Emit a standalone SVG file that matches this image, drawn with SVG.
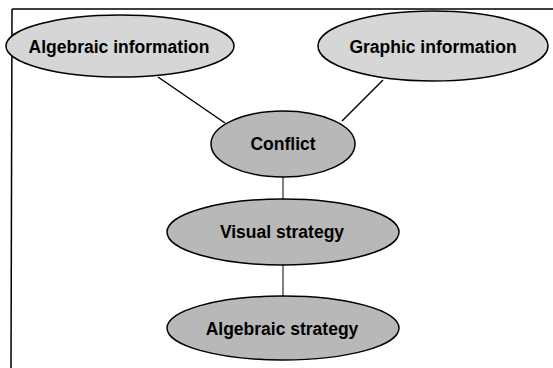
<svg xmlns="http://www.w3.org/2000/svg" width="553" height="368" viewBox="0 0 553 368">
<style>
.n ellipse{stroke:#000;stroke-width:1.5}
.light{fill:#d6d6d6}
.dark{fill:#b8b8b8}
text{font-family:"Liberation Sans",Arial,sans-serif;font-weight:bold;font-size:17.5px;fill:#000;text-anchor:middle;dominant-baseline:central}
.edge{stroke:#000;stroke-width:1.5;fill:none}
.thin{stroke:#000;stroke-width:1;fill:none}
</style>
<rect width="553" height="368" fill="#fff"/>
<g id="frame">
<line class="edge" x1="12" y1="9" x2="553" y2="9"/>
<line class="edge" x1="12" y1="9" x2="11" y2="368"/>
</g>
<g id="connectors">
<line class="edge" x1="158" y1="77" x2="225" y2="123"/>
<line class="edge" x1="383" y1="80" x2="342" y2="121"/>
<line class="thin" x1="283" y1="177" x2="283" y2="199"/>
<line class="thin" x1="283" y1="265" x2="283" y2="296"/>
</g>
<g id="algebraic-information" class="n">
<ellipse class="light" cx="120" cy="46" rx="114" ry="31"/>
<text x="119" y="47">Algebraic information</text>
</g>
<g id="graphic-information" class="n">
<ellipse class="light" cx="433" cy="46" rx="115" ry="35"/>
<text x="433" y="47">Graphic information</text>
</g>
<g id="conflict" class="n">
<ellipse class="dark" cx="283" cy="144" rx="72" ry="33"/>
<text x="283" y="144">Conflict</text>
</g>
<g id="visual-strategy" class="n">
<ellipse class="dark" cx="283" cy="232" rx="116" ry="33"/>
<text x="282" y="232">Visual strategy</text>
</g>
<g id="algebraic-strategy" class="n">
<ellipse class="dark" cx="283" cy="328" rx="116" ry="32"/>
<text x="282" y="329">Algebraic strategy</text>
</g>
</svg>
